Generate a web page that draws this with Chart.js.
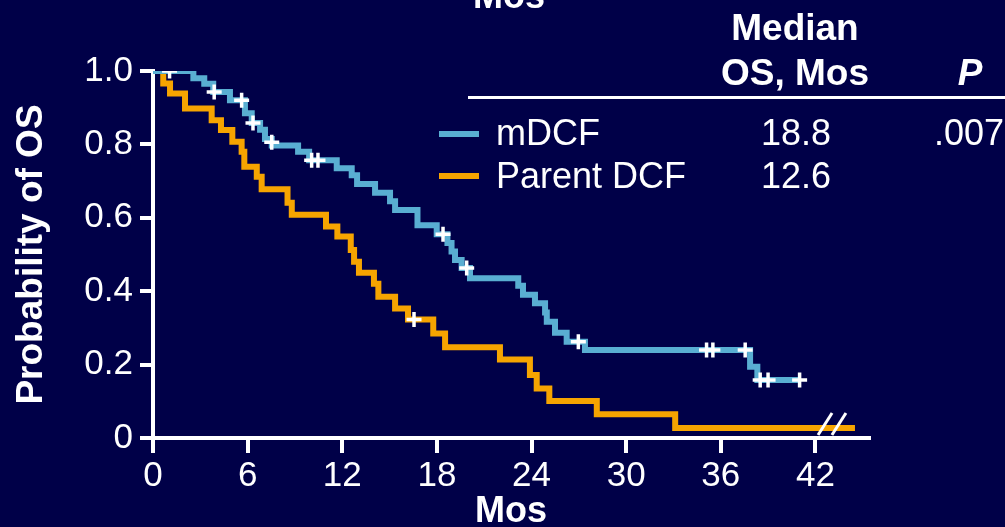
<!DOCTYPE html>
<html>
<head>
<meta charset="utf-8">
<script src="https://cdn.jsdelivr.net/npm/chart.js@4"></script>
<style>
html,body{margin:0;padding:0;background:#000048;overflow:hidden}
#wrap{position:relative;width:1005px;height:527px;background:#000048;font-family:"Liberation Sans",Arial,Helvetica,sans-serif;color:#fff;overflow:hidden}
#c{position:absolute;left:0;top:0}
.t{position:absolute;white-space:nowrap;line-height:1;margin:0}
.b{font-weight:bold}
.ctr{text-align:center;width:200px}
</style>
</head>
<body>
<div id="wrap">
  <canvas id="c" width="1005" height="527"></canvas>
  <div class="t b" style="font-size:36px;left:473px;top:-22px">Mos</div>
  <div class="t b ctr" style="font-size:37px;left:695px;top:9px">Median</div>
  <div class="t b ctr" style="font-size:37px;left:695px;top:54px">OS, Mos</div>
  <div class="t b ctr" style="font-size:37px;left:870px;top:54px;font-style:italic">P</div>
  <div style="position:absolute;left:468px;top:96px;width:537px;height:3px;background:#fff"></div>
  <div id="sw1" style="position:absolute;left:439px;top:131px;width:40px;height:6px"></div>
  <div class="t" id="n1" style="font-size:36px;left:496px;top:115px"></div>
  <div class="t ctr" id="m1" style="font-size:36px;left:696px;top:115px"></div>
  <div class="t" id="p1" style="font-size:36px;left:934px;top:115px"></div>
  <div id="sw2" style="position:absolute;left:439px;top:173px;width:40px;height:6px"></div>
  <div class="t" id="n2" style="font-size:36px;left:496px;top:158px"></div>
  <div class="t ctr" id="m2" style="font-size:36px;left:696px;top:158px"></div>
</div>
<script>
// ---- data ----
const seriesNames = ['mDCF', 'Parent DCF'];
const medianOS = ['18.8', '12.6'];
const pValue = '.007';

const mdcfMonths = [0, 2.56, 3.25, 3.82, 4.88, 5.83, 6.26, 6.79, 7.1, 7.53, 9.2, 9.9, 11.65, 12.6, 12.94, 14.08, 15.03, 15.35, 16.77, 17.99, 18.67, 18.93, 19.15, 19.57, 20.1, 23.16, 23.46, 24.22, 24.86, 24.97, 25.49, 26.23, 27.39, 37.86, 38.32, 40.94];
const mdcfSurv   = [1.0, 0.98, 0.965, 0.943, 0.92, 0.885, 0.858, 0.84, 0.815, 0.797, 0.78, 0.757, 0.735, 0.716, 0.692, 0.668, 0.645, 0.621, 0.58, 0.555, 0.531, 0.508, 0.485, 0.463, 0.435, 0.415, 0.39, 0.367, 0.342, 0.317, 0.287, 0.262, 0.24, 0.194, 0.158, 0.158];

const dcfMonths = [0, 0.65, 1.08, 2.03, 3.72, 4.31, 5.03, 5.62, 5.79, 6.58, 6.89, 8.53, 8.8, 10.97, 11.69, 12.54, 12.75, 13.06, 14.01, 14.29, 15.35, 16.17, 17.77, 18.52, 22.0, 23.9, 24.33, 25.13, 28.14, 33.11, 44.51];
const dcfSurv   = [1.0, 0.966, 0.939, 0.898, 0.866, 0.839, 0.807, 0.78, 0.739, 0.712, 0.678, 0.641, 0.608, 0.576, 0.549, 0.512, 0.48, 0.45, 0.42, 0.385, 0.353, 0.323, 0.285, 0.247, 0.214, 0.172, 0.135, 0.101, 0.065, 0.027, 0.027];

const mdcfCensorMonths = [1.05, 3.88, 5.62, 6.34, 7.53, 10.06, 10.46, 18.39, 19.89, 26.97, 35.1, 35.5, 37.55, 38.5, 39.0, 41.0];
const mdcfCensorSurv   = [1.0, 0.943, 0.92, 0.858, 0.806, 0.757, 0.757, 0.555, 0.463, 0.262, 0.24, 0.24, 0.24, 0.158, 0.158, 0.158];
const dcfCensorMonths = [16.55];
const dcfCensorSurv   = [0.323];

const xTickValues = [0, 6, 12, 18, 24, 30, 36, 42];
const yTickValues = [0, 0.2, 0.4, 0.6, 0.8, 1.0];
const yTickLabels = ['0', '0.2', '0.4', '0.6', '0.8', '1.0'];
const axisBreakMonths = [42.17, 43.05];

// ---- styles ----
const BG = '#000048';
const BLUE = '#59aed2';
const ORANGE = '#f6a400';
const WHITE = '#ffffff';
const FONT = '"Liberation Sans", Arial, Helvetica, sans-serif';

// legend/table text
document.getElementById('n1').textContent = seriesNames[0];
document.getElementById('n2').textContent = seriesNames[1];
document.getElementById('m1').textContent = medianOS[0];
document.getElementById('m2').textContent = medianOS[1];
document.getElementById('p1').textContent = pValue;
document.getElementById('sw1').style.background = BLUE;
document.getElementById('sw2').style.background = ORANGE;

const pts = (xs, ys) => xs.map((x, i) => ({x: x, y: ys[i]}));

const axisBreak = {
  id: 'axisBreak',
  afterDatasetsDraw(chart) {
    const {ctx, scales: {x, y}} = chart;
    ctx.save();
    ctx.strokeStyle = WHITE;
    ctx.lineWidth = 3;
    const y0 = y.getPixelForValue(0) - 3;
    axisBreakMonths.forEach(v => {
      const x0 = x.getPixelForValue(v);
      ctx.beginPath();
      ctx.moveTo(x0, y0);
      ctx.lineTo(x0 + 14, y0 - 22);
      ctx.stroke();
    });
    ctx.restore();
  }
};

new Chart(document.getElementById('c'), {
  type: 'line',
  data: {
    datasets: [
      {
        label: seriesNames[0] + ' censored',
        data: pts(mdcfCensorMonths, mdcfCensorSurv),
        showLine: false, pointStyle: 'cross', pointRadius: 7.5,
        pointBorderColor: WHITE, pointBorderWidth: 3.5, borderColor: WHITE, order: 0
      },
      {
        label: seriesNames[1] + ' censored',
        data: pts(dcfCensorMonths, dcfCensorSurv),
        showLine: false, pointStyle: 'cross', pointRadius: 7.5,
        pointBorderColor: WHITE, pointBorderWidth: 3.5, borderColor: WHITE, order: 1
      },
      {
        label: seriesNames[0],
        data: pts(mdcfMonths, mdcfSurv),
        stepped: true, borderColor: BLUE, borderWidth: 6, pointRadius: 0, fill: false, order: 2
      },
      {
        label: seriesNames[1],
        data: pts(dcfMonths, dcfSurv),
        stepped: true, borderColor: ORANGE, borderWidth: 6, pointRadius: 0, fill: false, order: 3
      }
    ]
  },
  options: {
    responsive: false,
    animation: false,
    devicePixelRatio: 1,
    layout: {padding: {left: 0, right: 136, top: 71, bottom: 0}},
    plugins: {legend: {display: false}, tooltip: {enabled: false}},
    scales: {
      x: {
        type: 'linear', min: 0, max: 45.4,
        afterFit(s) { s.height = 89; },
        afterBuildTicks(s) { s.ticks = xTickValues.map(v => ({value: v})); },
        grid: {drawOnChartArea: false, drawTicks: true, tickLength: 15, tickColor: WHITE, tickWidth: 4, lineWidth: 4, color: WHITE},
        border: {display: true, color: WHITE, width: 4},
        ticks: {color: WHITE, font: {family: FONT, size: 35, lineHeight: 1}, padding: 6, maxRotation: 0, autoSkip: false},
        title: {display: true, text: 'Mos', color: WHITE, font: {family: FONT, size: 36, weight: 'bold', lineHeight: 0.85}, padding: {top: 0, bottom: 0}}
      },
      y: {
        type: 'linear', min: 0, max: 1.0,
        afterFit(s) { s.width = 153; },
        afterBuildTicks(s) { s.ticks = yTickValues.map(v => ({value: v})); },
        grid: {drawOnChartArea: false, drawTicks: true, tickLength: 13, tickColor: WHITE, tickWidth: 4, lineWidth: 4, color: WHITE},
        border: {display: true, color: WHITE, width: 4},
        ticks: {
          color: WHITE, font: {family: FONT, size: 35, lineHeight: 1}, padding: 7, autoSkip: false,
          callback: (v) => { const i = yTickValues.findIndex(t => Math.abs(t - v) < 1e-9); return i >= 0 ? yTickLabels[i] : ''; }
        },
        title: {display: true, text: 'Probability of OS', color: WHITE, font: {family: FONT, size: 37, weight: 'bold', lineHeight: 1.2}, padding: {top: 10, bottom: 0}}
      }
    }
  },
  plugins: [axisBreak]
});
</script>
</body>
</html>
